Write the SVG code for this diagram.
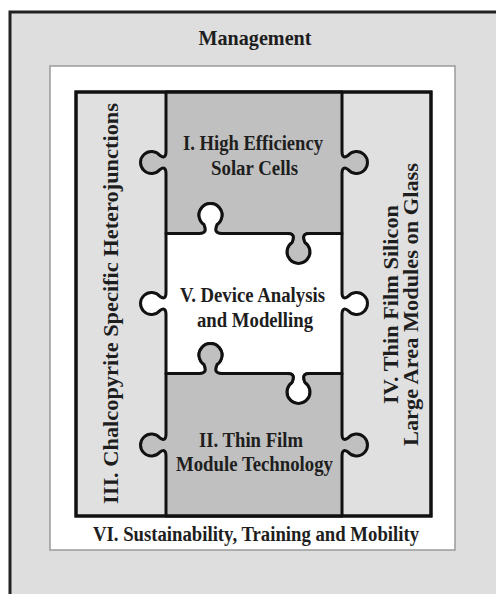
<svg xmlns="http://www.w3.org/2000/svg" width="496" height="594" viewBox="0 0 496 594">
<style>
  .t { font-family: "Liberation Serif", "Times New Roman", serif; font-weight: bold; fill: #1e1e1e; }
  .piece { stroke: #111; stroke-width: 3; stroke-linejoin: round; }
  .gray { fill: #c0c0c0; }
  .white { fill: #ffffff; }
</style>
<rect width="496" height="594" fill="#ffffff"/>
<g id="management">
  <rect x="10" y="12" width="500" height="600" fill="#dedede" stroke="#222" stroke-width="3"/>
  <text class="t" x="255" y="45" font-size="21" text-anchor="middle" textLength="113" lengthAdjust="spacingAndGlyphs">Management</text>
</g>
<g id="sustainability">
  <rect x="50" y="66" width="405" height="484" fill="#ffffff" stroke="#9a9a9a" stroke-width="1.5"/>
  <text class="t" x="256" y="541" font-size="20" text-anchor="middle" textLength="326" lengthAdjust="spacingAndGlyphs">VI. Sustainability, Training and Mobility</text>
</g>
<g id="frame">
  <rect x="76" y="92" width="355" height="424" fill="#e0e0e0" stroke="#111" stroke-width="3"/>
</g>
<g id="chalcopyrite">
  <text class="t" transform="translate(118,303.5) rotate(-90)" x="0" y="0" font-size="22" text-anchor="middle" textLength="401" lengthAdjust="spacingAndGlyphs">III. Chalcopyrite Specific Heterojunctions</text>
</g>
<g id="thinfilmsilicon">
  <text class="t" transform="translate(398,304.5) rotate(-90)" x="0" y="0" font-size="22" text-anchor="middle" textLength="199" lengthAdjust="spacingAndGlyphs">IV. Thin Film Silicon</text>
  <text class="t" transform="translate(418,304.5) rotate(-90)" x="0" y="0" font-size="22" text-anchor="middle" textLength="283" lengthAdjust="spacingAndGlyphs">Large Area Modules on Glass</text>
</g>
<g id="high-efficiency">
  <path class="piece gray" d="M166,92 L342,92 L342,151.5 C342,157.5 344.5,158 348,155.5 A11,11 0 1 1 348,169.5 C344.5,167 342,167.5 342,173.5 L342,233.5 L309.5,233.5 C303.5,233.5 302.5,236.5 305,242.5 A11.5,11.5 0 1 1 292,242.5 C294.5,236.5 293.5,233.5 287.5,233.5 L221.5,233.5 C215.5,233.5 214.5,230.5 217,224.5 A11.5,11.5 0 1 0 204,224.5 C206.5,230.5 205.5,233.5 199.5,233.5 L166,233.5 L166,173.5 C166,167.5 163.5,167 160,169.5 A11,11 0 1 1 160,155.5 C163.5,158 166,157.5 166,151.5 Z"/>
  <text class="t" x="253" y="150" font-size="20" text-anchor="middle" textLength="140" lengthAdjust="spacingAndGlyphs">I. High Efficiency</text>
  <text class="t" x="254.5" y="175" font-size="20" text-anchor="middle" textLength="87" lengthAdjust="spacingAndGlyphs">Solar Cells</text>
</g>
<g id="device-analysis">
  <path class="piece white" d="M166,233.5 L199.5,233.5 C205.5,233.5 206.5,230.5 204,224.5 A11.5,11.5 0 1 1 217,224.5 C214.5,230.5 215.5,233.5 221.5,233.5 L287.5,233.5 C293.5,233.5 294.5,236.5 292,242.5 A11.5,11.5 0 1 0 305,242.5 C302.5,236.5 303.5,233.5 309.5,233.5 L342,233.5 L342,292.5 C342,298.5 344.5,299 348,296.5 A11,11 0 1 1 348,310.5 C344.5,308 342,308.5 342,314.5 L342,373.5 L309.5,373.5 C303.5,373.5 302.5,376.5 305,382.5 A11.5,11.5 0 1 1 292,382.5 C294.5,376.5 293.5,373.5 287.5,373.5 L221.5,373.5 C215.5,373.5 214.5,370.5 217,364.5 A11.5,11.5 0 1 0 204,364.5 C206.5,370.5 205.5,373.5 199.5,373.5 L166,373.5 L166,314.5 C166,308.5 163.5,308 160,310.5 A11,11 0 1 1 160,296.5 C163.5,299 166,298.5 166,292.5 Z"/>
  <text class="t" x="252.5" y="302" font-size="20" text-anchor="middle" textLength="145" lengthAdjust="spacingAndGlyphs">V. Device Analysis</text>
  <text class="t" x="255" y="327" font-size="20" text-anchor="middle" textLength="116" lengthAdjust="spacingAndGlyphs">and Modelling</text>
</g>
<g id="thin-film-module">
  <path class="piece gray" d="M166,373.5 L199.5,373.5 C205.5,373.5 206.5,370.5 204,364.5 A11.5,11.5 0 1 1 217,364.5 C214.5,370.5 215.5,373.5 221.5,373.5 L287.5,373.5 C293.5,373.5 294.5,376.5 292,382.5 A11.5,11.5 0 1 0 305,382.5 C302.5,376.5 303.5,373.5 309.5,373.5 L342,373.5 L342,434 C342,440 344.5,440.5 348,438 A11,11 0 1 1 348,452 C344.5,449.5 342,450 342,456 L342,516 L166,516 L166,456 C166,450 163.5,449.5 160,452 A11,11 0 1 1 160,438 C163.5,440.5 166,440 166,434 Z"/>
  <text class="t" x="251" y="447" font-size="20" text-anchor="middle" textLength="104" lengthAdjust="spacingAndGlyphs">II. Thin Film</text>
  <text class="t" x="254.5" y="471" font-size="20" text-anchor="middle" textLength="157" lengthAdjust="spacingAndGlyphs">Module Technology</text>
</g>
<g id="frame-border">
  <rect x="76" y="92" width="355" height="424" fill="none" stroke="#111" stroke-width="3"/>
</g>
</svg>
